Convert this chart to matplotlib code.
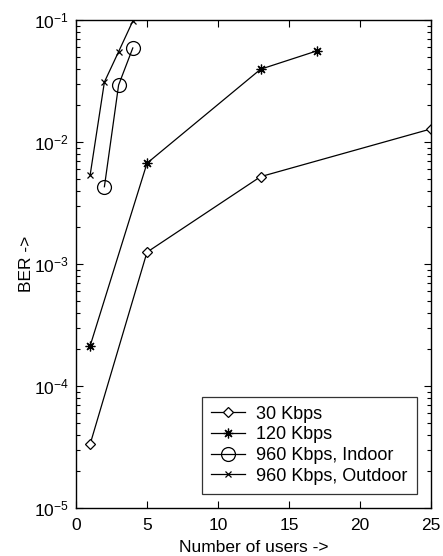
import matplotlib
matplotlib.use("Agg")
import matplotlib.pyplot as plt
from matplotlib.ticker import LogLocator, FixedLocator

plt.rcParams['font.family'] = ['Liberation Sans', 'DejaVu Sans']
plt.rcParams['mathtext.default'] = 'regular'

x_30 = [1, 5, 13, 25]
ber_30 = [3.35e-5, 1.25e-3, 5.2e-3, 1.28e-2]
x_120 = [1, 5, 13, 17]
ber_120 = [2.14e-4, 6.7e-3, 3.95e-2, 5.6e-2]
x_in = [2, 3, 4]
ber_in = [4.3e-3, 2.93e-2, 5.9e-2]
x_out = [1, 2, 3, 4]
ber_out = [5.4e-3, 3.1e-2, 5.5e-2, 9.8e-2]
labels = ['30 Kbps', '120 Kbps', '960 Kbps, Indoor', '960 Kbps, Outdoor']
xticks = [0, 5, 10, 15, 20, 25]

FS = 12.5
fig = plt.figure(figsize=(4.43, 5.56), dpi=100)
ax = fig.add_axes([76/443, 48/556, (431-76)/443, (508-20)/556])

lw = 0.9
ax.semilogy(x_30, ber_30, color='k', lw=lw, marker='D', ms=5.5, mfc='white', mec='k', mew=0.9, label=labels[0])
ax.semilogy(x_120, ber_120, color='k', lw=lw, marker=(8, 2, 0), ms=7, mew=0.9, label=labels[1])
ax.semilogy(x_in, ber_in, color='k', lw=lw, marker='o', ms=10, mfc='none', mec='k', mew=0.9, label=labels[2])
ax.semilogy(x_out, ber_out, color='k', lw=lw, marker='x', ms=5, mew=0.9, label=labels[3])

ax.set_xlim(0, 25)
ax.set_ylim(1e-5, 1e-1)
ax.xaxis.set_major_locator(FixedLocator(xticks))
ax.yaxis.set_major_locator(LogLocator(base=10, numticks=10))
ax.yaxis.set_minor_locator(LogLocator(base=10, subs=range(2, 10), numticks=20))
ax.tick_params(which='both', direction='in', top=True, right=True, labelsize=FS, width=0.8)
ax.tick_params(which='major', length=5)
ax.tick_params(which='minor', length=3)
ax.tick_params(axis='x', pad=7)
ax.tick_params(axis='y', pad=5)
for s in ax.spines.values():
    s.set_linewidth(1.0)

ax.set_xlabel('Number of users ->', fontsize=FS, labelpad=5)
ax.set_ylabel('BER ->', fontsize=FS, labelpad=0)

leg = ax.legend(loc='lower right', fontsize=13, frameon=True, fancybox=False, edgecolor='k',
                handlelength=1.9, borderpad=0.5, labelspacing=0.2, handletextpad=0.6,
                borderaxespad=0.8)
leg.get_frame().set_linewidth(0.9)

fig.savefig('out.png', dpi=100)
